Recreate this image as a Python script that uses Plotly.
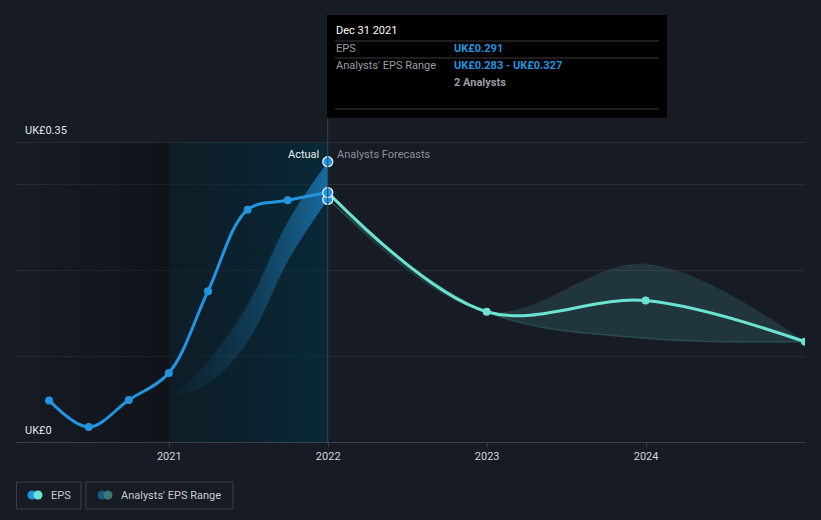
import plotly.graph_objects as go

# ---------------- data ----------------
actual_dates = ['2020-03-31', '2020-06-30', '2020-09-30', '2020-12-31',
                '2021-03-31', '2021-06-30', '2021-09-30', '2021-12-31']
actual_eps = [0.0485, 0.0175, 0.049, 0.0805, 0.176, 0.271, 0.282, 0.291]

past_range_dates = ['2020-12-31', '2021-03-31', '2021-06-30', '2021-09-30', '2021-12-31']
past_range_low = [0.051, 0.068, 0.117, 0.211, 0.283]
past_range_high = [0.051, 0.094, 0.160, 0.257, 0.327]

forecast_dates = ['2021-12-31', '2022-12-31', '2023-12-31', '2024-12-31']
forecast_eps = [0.291, 0.152, 0.165, 0.117]
forecast_low = [0.283, 0.152, 0.121, 0.117]
forecast_high = [0.283, 0.152, 0.208, 0.117]

y_ticks = [0, 0.1, 0.2, 0.3, 0.35]
y_labels = {0: 'UK£0', 0.35: 'UK£0.35'}
x_ticks = ['2021-01-01', '2022-01-01', '2023-01-01', '2024-01-01']
x_tick_labels = ['2021', '2022', '2023', '2024']
x_range = ['2020-01-15', '2024-12-31']
y_range = [0, 0.35]

tooltip_date = 'Dec 31 2021'
n_analysts = 2

# ---------------- style ----------------
BG = '#161b24'
BLUE = '#2394df'
TEAL = '#6ce3d2'
FONT = 'Roboto'

W, H = 821, 520
ML, MR, MT, MB = 16, 16, 142, 78
PW, PH = W - ML - MR, H - MT - MB


def px_x(p):
    return (p - ML) / PW


def px_y(p):
    return (H - MB - p) / PH


fig = go.Figure()

start_highlight = past_range_dates[0]
end_highlight = actual_dates[-1]

# darker region before the range period
fig.add_trace(go.Scatter(
    x=[x_range[0], start_highlight, start_highlight, x_range[0]],
    y=[y_range[0], y_range[0], y_range[1], y_range[1]],
    fill='toself', mode='none',
    fillgradient=dict(type='horizontal',
                      colorscale=[[0, 'rgba(0,0,0,0)'], [1, 'rgba(0,0,0,0.3)']]),
    hoverinfo='skip', showlegend=False))

# highlighted "actual" period
fig.add_trace(go.Scatter(
    x=[start_highlight, end_highlight, end_highlight, start_highlight],
    y=[y_range[0], y_range[0], y_range[1], y_range[1]],
    fill='toself', mode='none',
    fillgradient=dict(type='horizontal',
                      colorscale=[[0, 'rgba(6,30,40,0.55)'], [1, 'rgba(0,48,66,0.62)']]),
    hoverinfo='skip', showlegend=False))

# past analysts range band
fig.add_trace(go.Scatter(x=past_range_dates, y=past_range_low, mode='lines',
                         line=dict(width=0, shape='spline', color='rgba(0,0,0,0)'),
                         hoverinfo='skip', showlegend=False))
fig.add_trace(go.Scatter(x=past_range_dates, y=past_range_high, mode='lines',
                         line=dict(width=0, shape='spline', color='rgba(0,0,0,0)'),
                         fill='tonexty',
                         fillgradient=dict(type='horizontal',
                                           colorscale=[[0, 'rgba(35,148,223,0.0)'],
                                                       [0.5, 'rgba(35,148,223,0.2)'],
                                                       [0.8, 'rgba(35,148,223,0.42)'],
                                                       [1, 'rgba(35,148,223,0.62)']]),
                         hoverinfo='skip', showlegend=False))

# forecast analysts range band
fig.add_trace(go.Scatter(x=forecast_dates, y=forecast_low, mode='lines',
                         line=dict(width=1.5, shape='spline', color='rgba(90,200,185,0.22)'),
                         hoverinfo='skip', showlegend=False))
fig.add_trace(go.Scatter(x=forecast_dates, y=forecast_high, mode='lines',
                         line=dict(width=0, shape='spline', color='rgba(0,0,0,0)'),
                         fill='tonexty', fillcolor='rgba(100,215,200,0.15)',
                         hoverinfo='skip', showlegend=False))

# actual EPS line
fig.add_trace(go.Scatter(x=actual_dates, y=actual_eps, mode='lines+markers',
                         line=dict(color=BLUE, width=3, shape='spline'),
                         marker=dict(color=BLUE, size=8),
                         hoverinfo='skip', showlegend=False))

# forecast EPS line
fig.add_trace(go.Scatter(x=forecast_dates, y=forecast_eps, mode='lines+markers',
                         line=dict(color=TEAL, width=3, shape='spline'),
                         marker=dict(color=TEAL, size=8),
                         hoverinfo='skip', showlegend=False))

# highlighted markers at the hover date
fig.add_trace(go.Scatter(x=[end_highlight] * 3,
                         y=[past_range_high[-1], past_range_low[-1], actual_eps[-1]],
                         mode='markers',
                         marker=dict(color=BLUE, size=10,
                                     line=dict(color='#e6f2ff', width=1.3)),
                         hoverinfo='skip', showlegend=False))

shapes = []
# top boundary line
shapes.append(dict(type='line', xref='paper', yref='y', x0=0, x1=1,
                   y0=y_range[1], y1=y_range[1], line=dict(color='#3a3f48', width=1)))
# vertical hover line
shapes.append(dict(type='line', xref='x', yref='paper', x0=end_highlight, x1=end_highlight,
                   y0=0, y1=px_y(118), line=dict(color='#2c4b5c', width=1)))
# tooltip box
shapes.append(dict(type='rect', xref='paper', yref='paper',
                   x0=px_x(327), x1=px_x(667), y0=px_y(118), y1=px_y(15),
                   fillcolor='#000000', line=dict(width=0), layer='above'))
for yy in (41, 58, 109):
    shapes.append(dict(type='line', xref='paper', yref='paper',
                       x0=px_x(335), x1=px_x(659), y0=px_y(yy), y1=px_y(yy),
                       line=dict(color='#3b3b3b', width=1), layer='above'))

# legend boxes
shapes.append(dict(type='rect', xref='paper', yref='paper',
                   x0=px_x(16.5), x1=px_x(81), y0=px_y(482), y1=px_y(509),
                   line=dict(color='#3a3f48', width=1), fillcolor='rgba(0,0,0,0)'))
shapes.append(dict(type='rect', xref='paper', yref='paper',
                   x0=px_x(86), x1=px_x(233), y0=px_y(482), y1=px_y(509),
                   line=dict(color='#3a3f48', width=1), fillcolor='rgba(0,0,0,0)'))


def circle(cx, cy, r, color):
    return dict(type='circle', xref='paper', yref='paper',
                x0=px_x(cx - r), x1=px_x(cx + r), y0=px_y(cy + r), y1=px_y(cy - r),
                fillcolor=color, line=dict(width=0))


shapes.append(circle(32, 495, 4.5, BLUE))
shapes.append(circle(38, 495, 4.5, TEAL))
shapes.append(circle(102, 495, 4.5, '#1d5680'))
shapes.append(circle(108, 495, 4.5, '#3a7a72'))

annotations = []


def note(x, y, text, size, color, xanchor='left', xref='paper', yref='paper', **kw):
    annotations.append(dict(xref=xref, yref=yref, x=x, y=y, text=text, showarrow=False,
                            xanchor=xanchor, yanchor='middle',
                            font=dict(family=FONT, size=size, color=color), **kw))


for v, t in y_labels.items():
    note(px_x(23), v, t, 11, '#e2e4e8', yref='y', yshift=12)

note(end_highlight, px_y(154), 'Actual', 11, '#e8eaee', xanchor='right', xref='x', xshift=-7)
note(end_highlight, px_y(154), 'Analysts Forecasts', 11, '#8b9099', xanchor='left', xref='x', xshift=7)

# tooltip text
note(px_x(334), px_y(31), tooltip_date, 11, '#ffffff')
note(px_x(334), px_y(49), 'EPS', 11, '#9a9da3')
note(px_x(452), px_y(49), '<b>UK£%.3f</b>' % actual_eps[-1], 11, BLUE)
note(px_x(334), px_y(66), "Analysts' EPS Range", 11, '#9a9da3')
note(px_x(452), px_y(66), '<b>UK£%.3f - UK£%.3f</b>' % (past_range_low[-1], past_range_high[-1]), 11, BLUE)
note(px_x(452), px_y(83), '<b>%d Analysts</b>' % n_analysts, 11, '#9a9da3')

# legend text
note(px_x(49), px_y(495), 'EPS', 11, '#c9ccd1')
note(px_x(119), px_y(495), "Analysts' EPS Range", 11, '#c9ccd1')

fig.update_layout(
    width=W, height=H,
    margin=dict(l=ML, r=MR, t=MT, b=MB),
    paper_bgcolor=BG, plot_bgcolor=BG,
    hovermode=False,
    showlegend=False,
    font=dict(family=FONT, color='#d0d3d8'),
    shapes=shapes,
    annotations=annotations,
    xaxis=dict(type='date', range=x_range, tickvals=x_ticks, ticktext=x_tick_labels,
               showgrid=False, zeroline=False, showline=True, linecolor='#3a3f48',
               ticks='outside', ticklen=4, tickcolor='#3a3f48',
               tickfont=dict(family=FONT, size=11, color='#d3d6db'), fixedrange=True),
    yaxis=dict(range=y_range, tickvals=y_ticks, showticklabels=False,
               showgrid=True, gridcolor='#262c35', gridwidth=1, zeroline=False,
               showline=False, fixedrange=True),
)

fig.write_html('out.html')
